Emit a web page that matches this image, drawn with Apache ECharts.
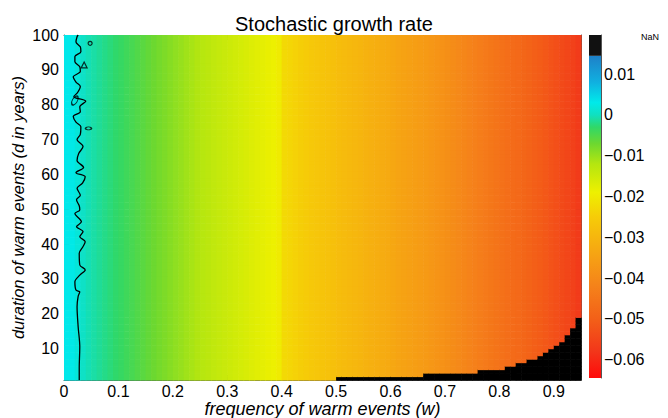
<!DOCTYPE html>
<html><head><meta charset="utf-8">
<script src="https://cdn.jsdelivr.net/npm/echarts@6/dist/echarts.min.js"></script>
<style>html,body{margin:0;padding:0;background:#fff}#c{width:668px;height:418px}</style>
</head><body><div id="c"></div>
<script>
// ---------------- DATA ----------------
// columns: frequency of warm events w (left edge of each cell), 0.00 .. 0.94
const wValues = Array.from({length: 95}, (_, i) => +(i * 0.01).toFixed(2));
// rows: duration d (lower edge of each cell), 1 .. 99
const dValues = Array.from({length: 99}, (_, i) => i + 1);
// stochastic growth rate per column
const growthRate = [
  0.0032, 0.0028, 0.0018, 0.0004, -0.0004, -0.0009, -0.0014, -0.0019, -0.0024, -0.0029,
  -0.0034, -0.0040, -0.0046, -0.0052, -0.0058, -0.0064, -0.0070, -0.0076, -0.0082, -0.0088,
  -0.0094, -0.0100, -0.0106, -0.0112, -0.0118, -0.0124, -0.0129, -0.0134, -0.0139, -0.0144,
  -0.0149, -0.0154, -0.0159, -0.0164, -0.0169, -0.0174, -0.0179, -0.0184, -0.0189, -0.0198,
  -0.0228, -0.0234, -0.0240, -0.0246, -0.0252, -0.0258, -0.0263, -0.0268, -0.0273, -0.0278,
  -0.0283, -0.0288, -0.0293, -0.0298, -0.0303, -0.0308, -0.0313, -0.0318, -0.0323, -0.0328,
  -0.0335, -0.0340, -0.0345, -0.0350, -0.0355, -0.0360, -0.0365, -0.0371, -0.0377, -0.0383,
  -0.0389, -0.0396, -0.0403, -0.0410, -0.0417, -0.0424, -0.0431, -0.0438, -0.0445, -0.0452,
  -0.0459, -0.0466, -0.0473, -0.0480, -0.0487, -0.0494, -0.0501, -0.0508, -0.0516, -0.0524,
  -0.0532, -0.0541, -0.0550, -0.0560, -0.0570
];
// number of NaN cells (black) counted from the bottom row, per column
const nanRows = [
  0,0,0,0,0,0,0,0,0,0, 0,0,0,0,0,0,0,0,0,0, 0,0,0,0,0,0,0,0,0,0,
  0,0,0,0,0,0,0,0,0,0, 0,0,0,0,0,0,0,0,0,0,
  1,1,1,1,1,1,1,1,1,1,1,1,1,1,1,1,
  2,2,2,2,2,2,2,2,2,2,
  3,3,3,3,3,
  4,4, 5,5, 6,6,7,8,9,10,11,13,15,18
];
// zero-growth contour line (w, d)
const contourW = [0.028,0.028,0.029,0.026,0.024,0.026,0.029,0.022,0.020,0.029,0.039,0.029,0.028,0.035,0.039,0.029,0.035,0.023,0.032,0.020,0.029,0.028,0.023,0.030,0.024,0.034,0.039,0.022,0.036,0.024,0.027,0.035,0.024,0.030,0.031,0.022,0.017,0.030,0.029,0.040,0.018,0.025,0.030,0.022,0.017,0.030,0.029,0.020,0.020,0.031,0.030,0.022,0.024,0.026];
const contourD = [1,4.4,10.6,16.3,22,25,26.3,26.8,29.2,31.1,32.6,34,37.4,39.3,40.7,42.1,43.6,45,46.4,48.8,49.8,51,52.7,54,56,57.5,59.3,60.5,62,64,66,68,70,71.5,73.7,75,76.6,78,79.4,81,82.3,83.5,85.2,86.5,88,89.5,90.9,92.3,93.8,95.2,96.6,98,99.5,100];
// small closed contour islands (w, d)
const islandW = [0.048, 0.037, 0.020, 0.045];
const islandD = [97.6, 91.4, 81.2, 73.2];
// axis ticks
const xTicks = [0, 0.1, 0.2, 0.3, 0.4, 0.5, 0.6, 0.7, 0.8, 0.9];
const yTicks = [10, 20, 30, 40, 50, 60, 70, 80, 90, 100];
const cbTicks = [-0.06, -0.05, -0.04, -0.03, -0.02, -0.01, 0, 0.01];
const cbMin = -0.0645, cbMax = 0.0145, cbNanTop = 0.0196;

// ---------------- STYLE ----------------
const FONT = 'Liberation Sans, Arial, Helvetica, sans-serif';
const cmapStops = [
  [-0.0645,'#ff0a0a'],[-0.058,'#f2361a'],[-0.050,'#f36018'],[-0.042,'#f5821a'],
  [-0.035,'#f6a014'],[-0.025,'#f6cc08'],[-0.019,'#eef000'],[-0.012,'#b4e610'],
  [-0.007,'#6cd830'],[-0.003,'#30d868'],[0.000,'#10e0c0'],[0.003,'#00eaea'],
  [0.008,'#10b0e0'],[0.0145,'#1e80c8']
];
function hex2rgb(h){return [parseInt(h.substr(1,2),16),parseInt(h.substr(3,2),16),parseInt(h.substr(5,2),16)];}
function colorOf(v){
  if (v <= cmapStops[0][0]) return cmapStops[0][1];
  for (let i = 1; i < cmapStops.length; i++) {
    if (v <= cmapStops[i][0]) {
      const a = cmapStops[i-1], b = cmapStops[i];
      const t = (v - a[0]) / (b[0] - a[0]);
      const ca = hex2rgb(a[1]), cb = hex2rgb(b[1]);
      return 'rgb(' + ca.map((c, k) => Math.round(c + (cb[k] - c) * t)).join(',') + ')';
    }
  }
  return cmapStops[cmapStops.length-1][1];
}

const cells = [];
wValues.forEach((w, i) => {
  dValues.forEach(d => {
    const isNan = d <= nanRows[i] ? 1 : 0;
    cells.push([w, d, growthRate[i], isNan]);
  });
});

const chart = echarts.init(document.getElementById('c'), null, {renderer: 'svg'});
const axisCol = '#555';
const minus = s => String(s).replace('-', '\u2212');
chart.setOption({
  animation: false,
  backgroundColor: '#fff',
  title: {
    text: 'Stochastic growth rate', left: 230, top: 9,
    textStyle: {fontFamily: FONT, fontSize: 20, fontWeight: 'normal', color: '#000'}
  },
  grid: [
    {left: 64, right: 87, top: 35, bottom: 38, outerBoundsMode: 'none'},
    {left: 589, width: 12, top: 35, bottom: 40, outerBoundsMode: 'none'}
  ],
  xAxis: [
    {gridIndex: 0, type: 'value', min: 0, max: 0.95, position: 'bottom',
     axisLine: {show: true, onZero: false, lineStyle: {color: axisCol}},
     axisTick: {show: true, inside: true, length: 5, customValues: xTicks, lineStyle: {color: axisCol}},
     axisLabel: {customValues: xTicks, color: '#000', fontFamily: FONT, fontSize: 16, margin: 3},
     splitLine: {show: false},
     name: 'frequency of warm events (w)', nameLocation: 'middle', nameGap: 20, nameMoveOverlap: false,
     nameTextStyle: {fontFamily: FONT, fontStyle: 'italic', fontSize: 18, color: '#000'}},
    {gridIndex: 0, type: 'value', min: 0, max: 0.95, position: 'top',
     axisLine: {show: true, onZero: false, lineStyle: {color: axisCol}},
     axisTick: {show: true, inside: true, length: 5, customValues: xTicks, lineStyle: {color: axisCol}},
     axisLabel: {show: false}, splitLine: {show: false}},
    {gridIndex: 1, type: 'value', min: 0, max: 1, show: false}
  ],
  yAxis: [
    {gridIndex: 0, type: 'value', min: 1, max: 100, position: 'left',
     axisLine: {show: true, onZero: false, lineStyle: {color: axisCol}},
     axisTick: {show: true, inside: true, length: 5, customValues: yTicks, lineStyle: {color: axisCol}},
     axisLabel: {customValues: yTicks, color: '#000', fontFamily: FONT, fontSize: 16, margin: 5},
     splitLine: {show: false},
     name: 'duration of warm events (d in years)', nameLocation: 'middle', nameGap: 38, nameMoveOverlap: false,
     nameTextStyle: {fontFamily: FONT, fontStyle: 'italic', fontSize: 16.5, color: '#000'}},
    {gridIndex: 0, type: 'value', min: 1, max: 100, position: 'right',
     axisLine: {show: true, onZero: false, lineStyle: {color: axisCol}},
     axisTick: {show: true, inside: true, length: 5, customValues: yTicks, lineStyle: {color: axisCol}},
     axisLabel: {show: false}, splitLine: {show: false}},
    {gridIndex: 1, type: 'value', min: cbMin, max: cbNanTop, position: 'right',
     axisLine: {show: true, onZero: false, lineStyle: {color: axisCol}},
     axisTick: {show: true, inside: true, length: 3, customValues: cbTicks, lineStyle: {color: axisCol}},
     axisLabel: {customValues: cbTicks, formatter: v => minus(+v.toFixed(2)), color: '#000', fontFamily: FONT, fontSize: 16, margin: 3},
     splitLine: {show: false}}
  ],
  graphic: [
    {type: 'text', left: 641, top: 32, style: {text: 'NaN', fontFamily: FONT, fontSize: 9, fill: '#000'}}
  ],
  series: [
    {
      type: 'custom', xAxisIndex: 0, yAxisIndex: 0, clip: true,
      encode: {x: 0, y: 1},
      data: cells,
      renderItem: function (params, api) {
        const w = api.value(0), d = api.value(1), v = api.value(2), nan = api.value(3);
        const p0 = api.coord([w, d]);
        const p1 = api.coord([w + 0.01, d + 1]);
        return {
          type: 'rect',
          shape: {x: p0[0], y: p1[1], width: p1[0] - p0[0] + 0.6, height: p0[1] - p1[1] + 0.6},
          style: {fill: nan ? '#000' : colorOf(v)}
        };
      }
    },
    {
      type: 'line', xAxisIndex: 0, yAxisIndex: 0, z: 5,
      data: contourW.map((w, i) => [w, contourD[i]]),
      showSymbol: false, symbol: 'none', smooth: 0.3,
      lineStyle: {color: '#000', width: 1.3}
    },
    {
      type: 'scatter', xAxisIndex: 0, yAxisIndex: 0, z: 5,
      data: islandW.map((w, i) => [w, islandD[i]]),
      symbol: (val, p) => ['circle', 'triangle', 'circle', 'circle'][p.dataIndex],
      symbolSize: (val, p) => [[4, 4], [6, 6], [5, 10], [6, 3]][p.dataIndex],
      symbolRotate: (val, p) => [0, 0, -30, 0][p.dataIndex],
      itemStyle: {color: 'rgba(0,0,0,0)', borderColor: '#000', borderWidth: 1.2}
    },
    {
      type: 'custom', xAxisIndex: 2, yAxisIndex: 2,
      encode: {x: 0, y: [1, 2]},
      data: [[0, cbMin, cbMax, 0], [0, cbMax, cbNanTop, 1]],
      renderItem: function (params, api) {
        const lo = api.value(1), hi = api.value(2), nan = api.value(3);
        const p0 = api.coord([0, lo]);
        const p1 = api.coord([1, hi]);
        let fill;
        if (nan) fill = '#111';
        else fill = {
          type: 'linear', x: 0, y: 1, x2: 0, y2: 0,
          colorStops: cmapStops.map(s => ({offset: (s[0] - cbMin) / (cbMax - cbMin), color: s[1]}))
        };
        return {type: 'rect', shape: {x: p0[0], y: p1[1], width: p1[0] - p0[0], height: p0[1] - p1[1]}, style: {fill: fill}};
      }
    }
  ]
});
</script>
</body></html>
